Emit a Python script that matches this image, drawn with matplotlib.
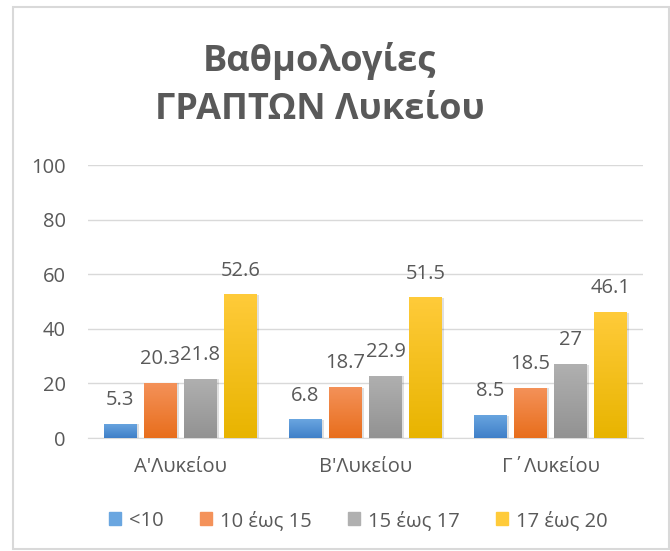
import matplotlib.pyplot as plt
import numpy as np
from matplotlib.colors import LinearSegmentedColormap
from matplotlib.patches import Rectangle

categories = ["A'Λυκείου", "B'Λυκείου", "Γ΄Λυκείου"]
series_names = ["<10", "10 έως 15", "15 έως 17", "17 έως 20"]
lt10 = [5.3, 6.8, 8.5]
s10_15 = [20.3, 18.7, 18.5]
s15_17 = [21.8, 22.9, 27]
s17_20 = [52.6, 51.5, 46.1]
series = [lt10, s10_15, s15_17, s17_20]

# gradient colours (top, bottom) similar to Excel style
grads = [("#6aa6e0", "#3f7fc8"),
         ("#f4925a", "#e86e1c"),
         ("#b0b0b0", "#929292"),
         ("#ffcb3a", "#e8b400")]

txt = "#595959"
plt.rcParams['font.family'] = ['Open Sans', 'DejaVu Sans']

fig = plt.figure(figsize=(6.7, 5.51), dpi=100)
ax = fig.add_axes([0.131, 0.205, 0.829, 0.4955])

x = np.arange(len(categories))
w = 0.178
step = 0.216
offsets = (np.arange(4) - 1.5) * step

grad = np.linspace(0, 1, 256).reshape(-1, 1)
for i, vals in enumerate(series):
    cmap = LinearSegmentedColormap.from_list("g%d" % i, [grads[i][1], grads[i][0]])
    bars = ax.bar(x + offsets[i], vals, w, color=grads[i][0], zorder=3,
                  label=series_names[i])
    for j, b in enumerate(bars):
        bx, by = b.get_x(), b.get_y()
        bw, bh = b.get_width(), b.get_height()
        # soft shadow
        ax.add_patch(Rectangle((bx + 0.012, by), bw, bh - 0.3, color="#000000",
                               alpha=0.12, zorder=2.5, lw=0))
        im = ax.imshow(grad, extent=[bx, bx + bw, by, by + bh], origin="lower",
                       aspect="auto", cmap=cmap, zorder=3.1)
        im.set_clip_path(b)
        ax.annotate('{}'.format(vals[j]),
                    xy=(bx + bw / 2, bh), xytext=(0, 10),
                    textcoords='offset points', ha='center', va='bottom',
                    fontsize=14.5, color=txt, zorder=5)

ax.set_xlim(-0.5, 2.5)
ax.set_ylim(0, 100)
ax.set_yticks(range(0, 101, 20))
ax.set_xticks(x, categories)
ax.tick_params(axis='both', length=0, labelsize=14.5, colors=txt)
ax.tick_params(axis='x', pad=14)
ax.tick_params(axis='y', pad=16)
ax.grid(axis='y', color="#d9d9d9", lw=1, zorder=0)
for s in ['top', 'right', 'left']:
    ax.spines[s].set_visible(False)
ax.spines['bottom'].set_color("#d9d9d9")

fig.text(0.477, 0.89, "Βαθμολογίες", ha='center', va='center', fontsize=26,
         fontweight='bold', color=txt)
fig.text(0.477, 0.80, "ΓΡΑΠΤΩΝ Λυκείου", ha='center', va='center', fontsize=26,
         fontweight='bold', color=txt)

handles = [Rectangle((0, 0), 1, 1, color=c[0]) for c in grads]
fig.legend(handles, series_names, loc='center', bbox_to_anchor=(0.535, 0.055),
           ncol=4, frameon=False, fontsize=14.5, labelcolor=txt,
           handlelength=0.6, handleheight=0.6, handletextpad=0.4, columnspacing=1.8)

fig.patches.append(Rectangle((0.019, 0.003), 0.979, 0.984, transform=fig.transFigure,
                             fill=False, edgecolor="#d9d9d9", lw=1.5))

plt.savefig("out.png", dpi=100)
